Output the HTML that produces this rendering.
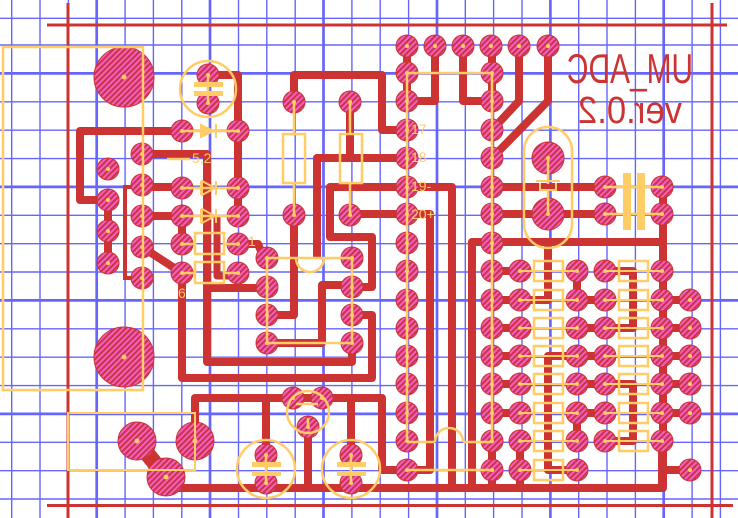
<!DOCTYPE html>
<html><head><meta charset="utf-8"><style>html,body{margin:0;padding:0;background:#fff}svg{display:block}</style></head>
<body>
<svg width="738" height="518" viewBox="0 0 738 518" xmlns="http://www.w3.org/2000/svg">
<defs>
<pattern id="h" patternUnits="userSpaceOnUse" width="4" height="4" patternTransform="rotate(45)">
<rect width="4" height="4" fill="#f060c0"/><rect width="2" height="4" fill="#cc3344"/>
</pattern>
<g id="p"><circle r="11" fill="url(#h)" stroke="#cc3333" stroke-width="1"/><circle r="2" fill="#ffcc66"/></g>
<g id="m"><circle r="16" fill="url(#h)" stroke="#cc3333" stroke-width="1"/><circle r="2" fill="#ffcc66"/></g>
<g id="b"><circle r="19" fill="url(#h)" stroke="#cc3333" stroke-width="1"/><circle r="2.5" fill="#ffcc66"/></g>
<g id="H"><circle r="30" fill="url(#h)" stroke="#cc3333" stroke-width="1"/><circle r="2.5" fill="#ffcc66"/></g>
</defs>
<!-- grid -->
<g stroke="#6666ff" stroke-width="1.4">
<path d="M11.7 0V518M40 0V518M68.4 0V518M125.1 0V518M153.4 0V518M181.8 0V518M238.5 0V518M266.8 0V518M295.2 0V518M351.9 0V518M380.2 0V518M408.6 0V518M465.3 0V518M493.6 0V518M522 0V518M578.7 0V518M607 0V518M635.4 0V518M692.1 0V518M720.4 0V518"/>
<path d="M0 18.3H738M0 45H738M0 101.8H738M0 130.2H738M0 158.6H738M0 215.3H738M0 243.7H738M0 272H738M0 328.8H738M0 357.2H738M0 385.6H738M0 442.3H738M0 470.7H738M0 499H738"/>
</g>
<g stroke="#6666ff" stroke-width="2.7">
<path d="M96.7 0V518M210 0V518M323.5 0V518M437 0V518M550.4 0V518M663.7 0V518"/>
<path d="M0 73.4H738M0 186.9H738M0 300.4H738M0 413.9H738"/>
</g>
<!-- board outline -->
<g stroke="#cc3333" stroke-width="3">
<path d="M47 25H727M68 3V518M712 3V518M47 505.5H733"/>
</g>
<!-- traces -->
<g fill="none" stroke="#cc3333" stroke-width="8" stroke-linejoin="round">
<path d="M182 131H80V200H108V263"/>
<path d="M142 154H207V362H352V343"/>
<path d="M142 187H182"/>
<path d="M142 216H182V244"/>
<path d="M142 247L182 273V378H372V315H352"/>
<path d="M208 75H238V216"/>
<path d="M238 244H258L264 258"/>
<path d="M217 216V276H238" stroke-width="7"/>
<path d="M207 288H267"/>
<path d="M267 315H294V215"/>
<path d="M294 102V75H382V130H407"/>
<path d="M350 102V158"/>
<path d="M317 258V158H407"/>
<path d="M350 214H407"/>
<path d="M407 187H330V237H372V287H352"/>
<path d="M407 187H452V488"/>
<path d="M352 285H322V343H267"/>
<path d="M407 214H430V470H407"/>
<path d="M195 441V398H382V470H407"/>
<path d="M137 441L166 477" stroke-width="16"/>
<path d="M166 488H663V185"/>
<path d="M472 488V242H663"/>
<path d="M266 398V455M351 398V455M308 427V488"/>
<path d="M407 46V101H435V46M463 46V101H492V46"/>
<path d="M519 46V101L492 130M548 46V101L492 158"/>
<path d="M492 187H605M492 214H605"/>
<path d="M492 271H520M492 300H520M492 328H520M492 356H520M492 384H520M492 413H520"/>
<path d="M577 271V300M577 413V441M577 300H605M577 328H605M577 356H605M577 384H605M577 413H605"/>
<path d="M662 300H690M662 328H690M662 356H690M662 384H690M662 413H690"/>
<path d="M548 242V300H520"/>
<path d="M577 356H548V470H577"/>
<path d="M605 271H633V328H605M605 384H633V441H605"/>
<path d="M492 441V488M520 441V488M662 441V488M662 470H690"/>
</g>
<path d="M142 187H125V278H142" fill="none" stroke="#cc3333" stroke-width="4"/>
<!-- pads -->
<use href="#H" x="124" y="77"/><use href="#H" x="124" y="357"/>
<use href="#b" x="137" y="441"/><use href="#b" x="195" y="441"/><use href="#b" x="166" y="477"/>
<use href="#p" x="208" y="75"/><use href="#p" x="208" y="103"/>
<use href="#p" x="182" y="131"/><use href="#p" x="238" y="131"/>
<use href="#p" x="142" y="154"/><use href="#p" x="108" y="169"/><use href="#p" x="142" y="185"/><use href="#p" x="108" y="200"/><use href="#p" x="142" y="216"/><use href="#p" x="108" y="231"/><use href="#p" x="142" y="247"/><use href="#p" x="108" y="263"/><use href="#p" x="142" y="278"/>
<use href="#p" x="182" y="188"/><use href="#p" x="238" y="188"/><use href="#p" x="182" y="216"/><use href="#p" x="238" y="216"/><use href="#p" x="182" y="244"/><use href="#p" x="238" y="244"/><use href="#p" x="182" y="273"/><use href="#p" x="238" y="273"/>
<use href="#p" x="294" y="102"/><use href="#p" x="294" y="215"/><use href="#p" x="350" y="102"/><use href="#p" x="350" y="215"/>
<use href="#p" x="267" y="258"/><use href="#p" x="267" y="287"/><use href="#p" x="267" y="315"/><use href="#p" x="267" y="343"/>
<use href="#p" x="352" y="258"/><use href="#p" x="352" y="287"/><use href="#p" x="352" y="315"/><use href="#p" x="352" y="343"/>
<use href="#p" x="293" y="398"/><use href="#p" x="322" y="398"/><use href="#p" x="308" y="427"/>
<use href="#p" x="266" y="455"/><use href="#p" x="266" y="483"/><use href="#p" x="351" y="455"/><use href="#p" x="351" y="483"/>
<use href="#p" x="407" y="46"/><use href="#p" x="435" y="46"/><use href="#p" x="463" y="46"/><use href="#p" x="491" y="46"/><use href="#p" x="519" y="46"/><use href="#p" x="548" y="46"/>
<g id="col"><use href="#p" x="407" y="73"/><use href="#p" x="407" y="101"/><use href="#p" x="407" y="130"/><use href="#p" x="407" y="158"/><use href="#p" x="407" y="187"/><use href="#p" x="407" y="214"/><use href="#p" x="407" y="243"/><use href="#p" x="407" y="271"/><use href="#p" x="407" y="300"/><use href="#p" x="407" y="328"/><use href="#p" x="407" y="356"/><use href="#p" x="407" y="384"/><use href="#p" x="407" y="413"/><use href="#p" x="407" y="441"/><use href="#p" x="407" y="470"/></g>
<use href="#col" x="85" y="0"/>
<use href="#m" x="548" y="158"/><use href="#m" x="548" y="214"/>
<use href="#p" x="605" y="187"/><use href="#p" x="605" y="214"/><use href="#p" x="662" y="187"/><use href="#p" x="662" y="214"/>
<g id="r8"><use href="#p" x="520" y="271"/><use href="#p" x="520" y="300"/><use href="#p" x="520" y="328"/><use href="#p" x="520" y="356"/><use href="#p" x="520" y="384"/><use href="#p" x="520" y="413"/><use href="#p" x="520" y="441"/><use href="#p" x="520" y="470"/></g>
<use href="#r8" x="57" y="0"/>
<g id="r7"><use href="#p" x="605" y="271"/><use href="#p" x="605" y="300"/><use href="#p" x="605" y="328"/><use href="#p" x="605" y="356"/><use href="#p" x="605" y="384"/><use href="#p" x="605" y="413"/><use href="#p" x="605" y="441"/></g>
<use href="#r7" x="57" y="0"/>
<use href="#p" x="690" y="300"/><use href="#p" x="690" y="328"/><use href="#p" x="690" y="356"/><use href="#p" x="690" y="384"/><use href="#p" x="690" y="413"/><use href="#p" x="690" y="470"/>
<!-- silkscreen -->
<g fill="none" stroke="#ffcc66" stroke-width="2.5">
<rect x="3" y="47" width="140" height="343"/>
<rect x="68" y="413" width="127" height="57" stroke-width="2"/>
<circle cx="208" cy="89" r="28"/>
<circle cx="266" cy="469" r="29"/><circle cx="351" cy="469" r="29"/>
<circle cx="308" cy="412" r="21"/>
<rect x="524" y="127" width="48" height="121" rx="24"/>
<rect x="283" y="134" width="22" height="49"/><rect x="340" y="134" width="22" height="49"/>
<path d="M294 102V134M294 183V215M350 102V134M350 183V215"/>
<rect x="267" y="258" width="85" height="85"/>
<path d="M296 258a14 14 0 0 0 28 0"/>
<path d="M407 73H492M407 73V442M492 73V442M407 442H435M463 442H492M407 470H492"/>
<path d="M435 442a14 14 0 0 1 28 0"/>
<rect x="195" y="233" width="29" height="21"/><rect x="195" y="262" width="29" height="21"/>
<path d="M182 244H195M224 244H238M182 273H195M224 273H238"/>
<path d="M182 131H238M182 188H238M182 216H238"/>
<path d="M201 124V138M201 181V195M201 209V223M216 124V138M216 181V195M216 209V223" stroke-width="2"/>
<path d="M167 159H190"/>
<path d="M605 187H662M605 214H662"/>
<path d="M548 158V214"/>
<path d="M536 181H560M540 183V190H556V183" stroke-width="2"/>
<path d="M208 75V103M266 455V483M351 455V483M308 427V418M296 404H318"/>
</g>
<g fill="#ffcc66">
<path d="M201 124L216 131L201 138Z"/>
<path d="M202 181L215 188L202 195Z" fill="none" stroke="#ffcc66" stroke-width="2"/>
<path d="M202 209L215 216L202 223Z" fill="none" stroke="#ffcc66" stroke-width="2"/>
<rect x="194" y="82" width="29" height="5"/><rect x="194" y="91" width="29" height="5"/>
<rect x="252" y="462" width="29" height="5"/><rect x="252" y="471" width="29" height="5"/>
<rect x="337" y="462" width="29" height="5"/><rect x="337" y="471" width="29" height="5"/>
<rect x="623" y="173" width="8" height="57"/><rect x="637" y="173" width="8" height="57"/>
<rect x="541" y="184" width="14" height="5" fill="#cc3333"/>
</g>
<g id="rs" fill="none" stroke="#ffcc66" stroke-width="2.5">
<rect x="534" y="261" width="29" height="20"/><rect x="534" y="290" width="29" height="20"/><rect x="534" y="318" width="29" height="20"/><rect x="534" y="346" width="29" height="20"/><rect x="534" y="374" width="29" height="20"/><rect x="534" y="403" width="29" height="20"/><rect x="534" y="431" width="29" height="20"/><rect x="534" y="460" width="29" height="20"/>
<path d="M520 271H577M520 300H577M520 328H577M520 356H577M520 384H577M520 413H577M520 441H577M520 470H577" stroke-width="2"/>
</g>
<g fill="none" stroke="#ffcc66" stroke-width="2.5">
<rect x="619" y="261" width="29" height="20"/><rect x="619" y="290" width="29" height="20"/><rect x="619" y="318" width="29" height="20"/><rect x="619" y="346" width="29" height="20"/><rect x="619" y="374" width="29" height="20"/><rect x="619" y="403" width="29" height="20"/><rect x="619" y="431" width="29" height="20"/>
<path d="M605 271H662M605 300H662M605 328H662M605 356H662M605 384H662M605 413H662M605 441H662" stroke-width="2"/>
</g>
<g fill="#ffcc66" font-family="Liberation Sans, sans-serif" font-size="14">
<text x="192" y="163">5,2</text>
<text x="248" y="246">1</text>
<text x="178" y="298">6</text>
<text x="411" y="134">17</text>
<text x="411" y="162">18</text>
<text x="411" y="191">19-</text>
<text x="411" y="219">20+</text>
</g>
<g transform="translate(1260,0) scale(-1,1)" fill="#cc3333" font-family="Liberation Sans, sans-serif">
<text x="567" y="83" font-size="42" textLength="126" lengthAdjust="spacingAndGlyphs">UM_ADC</text>
<text x="578" y="123" font-size="38" textLength="104" lengthAdjust="spacingAndGlyphs">ver.0.2</text>
</g>
</svg>
</body></html>
